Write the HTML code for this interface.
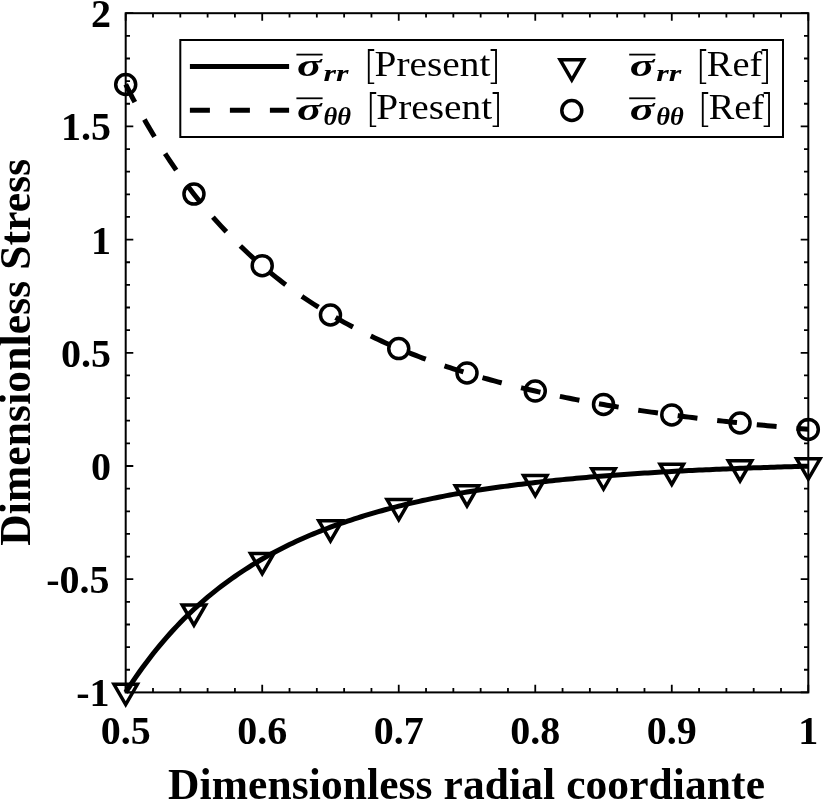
<!DOCTYPE html>
<html><head><meta charset="utf-8"><title>Dimensionless Stress</title>
<style>
html,body{margin:0;padding:0;background:#fff;}
svg{display:block;}
text{font-family:"Liberation Serif",serif;fill:#000;}
.b{font-weight:bold;}
.bi{font-weight:bold;font-style:italic;}
.lt{font-family:"DejaVu Sans Light","DejaVu Sans","Liberation Sans",sans-serif;font-weight:200;}
</style></head><body>
<svg width="823" height="801" viewBox="0 0 823 801">
<rect x="0" y="0" width="823" height="801" fill="#fff"/>
<path d="M125.70,692.4 v-7.6 M125.70,13.2 v7.6 M153.00,692.4 v-4.3 M153.00,13.2 v4.3 M180.31,692.4 v-4.3 M180.31,13.2 v4.3 M207.61,692.4 v-4.3 M207.61,13.2 v4.3 M234.92,692.4 v-4.3 M234.92,13.2 v4.3 M262.22,692.4 v-7.6 M262.22,13.2 v7.6 M289.52,692.4 v-4.3 M289.52,13.2 v4.3 M316.83,692.4 v-4.3 M316.83,13.2 v4.3 M344.13,692.4 v-4.3 M344.13,13.2 v4.3 M371.44,692.4 v-4.3 M371.44,13.2 v4.3 M398.74,692.4 v-7.6 M398.74,13.2 v7.6 M426.04,692.4 v-4.3 M426.04,13.2 v4.3 M453.35,692.4 v-4.3 M453.35,13.2 v4.3 M480.65,692.4 v-4.3 M480.65,13.2 v4.3 M507.96,692.4 v-4.3 M507.96,13.2 v4.3 M535.26,692.4 v-7.6 M535.26,13.2 v7.6 M562.56,692.4 v-4.3 M562.56,13.2 v4.3 M589.87,692.4 v-4.3 M589.87,13.2 v4.3 M617.17,692.4 v-4.3 M617.17,13.2 v4.3 M644.48,692.4 v-4.3 M644.48,13.2 v4.3 M671.78,692.4 v-7.6 M671.78,13.2 v7.6 M699.08,692.4 v-4.3 M699.08,13.2 v4.3 M726.39,692.4 v-4.3 M726.39,13.2 v4.3 M753.69,692.4 v-4.3 M753.69,13.2 v4.3 M781.00,692.4 v-4.3 M781.00,13.2 v4.3 M808.30,692.4 v-7.6 M808.30,13.2 v7.6 M125.7,692.40 h7.6 M808.3,692.40 h-7.6 M125.7,669.76 h4.3 M808.3,669.76 h-4.3 M125.7,647.12 h4.3 M808.3,647.12 h-4.3 M125.7,624.48 h4.3 M808.3,624.48 h-4.3 M125.7,601.84 h4.3 M808.3,601.84 h-4.3 M125.7,579.20 h7.6 M808.3,579.20 h-7.6 M125.7,556.56 h4.3 M808.3,556.56 h-4.3 M125.7,533.92 h4.3 M808.3,533.92 h-4.3 M125.7,511.28 h4.3 M808.3,511.28 h-4.3 M125.7,488.64 h4.3 M808.3,488.64 h-4.3 M125.7,466.00 h7.6 M808.3,466.00 h-7.6 M125.7,443.36 h4.3 M808.3,443.36 h-4.3 M125.7,420.72 h4.3 M808.3,420.72 h-4.3 M125.7,398.08 h4.3 M808.3,398.08 h-4.3 M125.7,375.44 h4.3 M808.3,375.44 h-4.3 M125.7,352.80 h7.6 M808.3,352.80 h-7.6 M125.7,330.16 h4.3 M808.3,330.16 h-4.3 M125.7,307.52 h4.3 M808.3,307.52 h-4.3 M125.7,284.88 h4.3 M808.3,284.88 h-4.3 M125.7,262.24 h4.3 M808.3,262.24 h-4.3 M125.7,239.60 h7.6 M808.3,239.60 h-7.6 M125.7,216.96 h4.3 M808.3,216.96 h-4.3 M125.7,194.32 h4.3 M808.3,194.32 h-4.3 M125.7,171.68 h4.3 M808.3,171.68 h-4.3 M125.7,149.04 h4.3 M808.3,149.04 h-4.3 M125.7,126.40 h7.6 M808.3,126.40 h-7.6 M125.7,103.76 h4.3 M808.3,103.76 h-4.3 M125.7,81.12 h4.3 M808.3,81.12 h-4.3 M125.7,58.48 h4.3 M808.3,58.48 h-4.3 M125.7,35.84 h4.3 M808.3,35.84 h-4.3 M125.7,13.20 h7.6 M808.3,13.20 h-7.6" stroke="#000" stroke-width="1.8" fill="none"/>
<rect x="125.7" y="13.2" width="682.60" height="679.20" fill="none" stroke="#000" stroke-width="2.0"/>
<path d="M125.70,692.42 L129.11,687.12 L132.53,681.96 L135.94,676.94 L139.35,672.05 L142.76,667.30 L146.18,662.67 L149.59,658.16 L153.00,653.77 L156.42,649.50 L159.83,645.35 L163.24,641.30 L166.66,637.35 L170.07,633.51 L173.48,629.77 L176.89,626.12 L180.31,622.57 L183.72,619.11 L187.13,615.74 L190.55,612.45 L193.96,609.24 L197.37,606.12 L200.79,603.07 L204.20,600.10 L207.61,597.20 L211.02,594.37 L214.44,591.61 L217.85,588.91 L221.26,586.28 L224.68,583.71 L228.09,581.20 L231.50,578.74 L234.92,576.34 L238.33,574.00 L241.74,571.71 L245.16,569.47 L248.57,567.29 L251.98,565.15 L255.39,563.06 L258.81,561.02 L262.22,559.02 L265.63,557.07 L269.05,555.16 L272.46,553.29 L275.87,551.47 L279.29,549.68 L282.70,547.94 L286.11,546.23 L289.52,544.57 L292.94,542.94 L296.35,541.34 L299.76,539.78 L303.18,538.26 L306.59,536.77 L310.00,535.31 L313.41,533.88 L316.83,532.48 L320.24,531.12 L323.65,529.78 L327.07,528.47 L330.48,527.19 L333.89,525.93 L337.31,524.70 L340.72,523.49 L344.13,522.31 L347.54,521.15 L350.96,520.02 L354.37,518.90 L357.78,517.81 L361.20,516.74 L364.61,515.69 L368.02,514.66 L371.44,513.65 L374.85,512.65 L378.26,511.68 L381.67,510.72 L385.09,509.78 L388.50,508.86 L391.91,507.95 L395.33,507.07 L398.74,506.20 L402.15,505.34 L405.57,504.50 L408.98,503.68 L412.39,502.88 L415.81,502.09 L419.22,501.32 L422.63,500.56 L426.04,499.82 L429.46,499.09 L432.87,498.38 L436.28,497.68 L439.70,497.00 L443.11,496.33 L446.52,495.67 L449.94,495.03 L453.35,494.40 L456.76,493.79 L460.17,493.19 L463.59,492.60 L467.00,492.02 L470.41,491.45 L473.83,490.90 L477.24,490.35 L480.65,489.82 L484.06,489.29 L487.48,488.78 L490.89,488.28 L494.30,487.78 L497.72,487.30 L501.13,486.82 L504.54,486.36 L507.96,485.90 L511.37,485.45 L514.78,485.01 L518.20,484.58 L521.61,484.15 L525.02,483.73 L528.43,483.32 L531.85,482.92 L535.26,482.53 L538.67,482.14 L542.09,481.76 L545.50,481.39 L548.91,481.02 L552.32,480.66 L555.74,480.31 L559.15,479.96 L562.56,479.62 L565.98,479.29 L569.39,478.96 L572.80,478.64 L576.22,478.32 L579.63,478.01 L583.04,477.71 L586.46,477.41 L589.87,477.11 L593.28,476.83 L596.69,476.54 L600.11,476.26 L603.52,475.99 L606.93,475.72 L610.35,475.46 L613.76,475.20 L617.17,474.95 L620.59,474.70 L624.00,474.46 L627.41,474.22 L630.82,473.98 L634.24,473.75 L637.65,473.53 L641.06,473.31 L644.48,473.09 L647.89,472.88 L651.30,472.67 L654.71,472.46 L658.13,472.26 L661.54,472.06 L664.95,471.87 L668.37,471.67 L671.78,471.49 L675.19,471.30 L678.61,471.12 L682.02,470.94 L685.43,470.77 L688.85,470.60 L692.26,470.43 L695.67,470.27 L699.08,470.11 L702.50,469.95 L705.91,469.79 L709.32,469.64 L712.74,469.49 L716.15,469.34 L719.56,469.19 L722.97,469.05 L726.39,468.91 L729.80,468.77 L733.21,468.64 L736.63,468.50 L740.04,468.37 L743.45,468.24 L746.87,468.12 L750.28,467.99 L753.69,467.87 L757.11,467.75 L760.52,467.63 L763.93,467.52 L767.34,467.40 L770.76,467.29 L774.17,467.18 L777.58,467.07 L781.00,466.96 L784.41,466.86 L787.82,466.75 L791.24,466.65 L794.65,466.55 L798.06,466.45 L801.47,466.35 L804.89,466.25 L808.30,466.16" fill="none" stroke="#000" stroke-width="5" stroke-linejoin="round"/>
<path d="M125.70,84.47 L129.11,91.21 L132.53,97.79 L135.94,104.22 L139.35,110.51 L142.76,116.66 L146.18,122.66 L149.59,128.54 L153.00,134.28 L156.42,139.89 L159.83,145.38 L163.24,150.75 L166.66,156.01 L170.07,161.15 L173.48,166.17 L176.89,171.09 L180.31,175.91 L183.72,180.62 L187.13,185.23 L190.55,189.75 L193.96,194.17 L197.37,198.49 L200.79,202.73 L204.20,206.88 L207.61,210.94 L211.02,214.92 L214.44,218.82 L217.85,222.64 L221.26,226.38 L224.68,230.05 L228.09,233.64 L231.50,237.16 L234.92,240.61 L238.33,243.99 L241.74,247.31 L245.16,250.56 L248.57,253.75 L251.98,256.87 L255.39,259.94 L258.81,262.94 L262.22,265.89 L265.63,268.78 L269.05,271.62 L272.46,274.40 L275.87,277.13 L279.29,279.80 L282.70,282.43 L286.11,285.01 L289.52,287.54 L292.94,290.03 L296.35,292.46 L299.76,294.86 L303.18,297.21 L306.59,299.51 L310.00,301.78 L313.41,304.00 L316.83,306.19 L320.24,308.33 L323.65,310.44 L327.07,312.51 L330.48,314.54 L333.89,316.54 L337.31,318.50 L340.72,320.42 L344.13,322.32 L347.54,324.18 L350.96,326.01 L354.37,327.81 L357.78,329.57 L361.20,331.31 L364.61,333.01 L368.02,334.69 L371.44,336.34 L374.85,337.96 L378.26,339.56 L381.67,341.13 L385.09,342.67 L388.50,344.18 L391.91,345.68 L395.33,347.14 L398.74,348.58 L402.15,350.00 L405.57,351.40 L408.98,352.77 L412.39,354.12 L415.81,355.45 L419.22,356.76 L422.63,358.05 L426.04,359.32 L429.46,360.56 L432.87,361.79 L436.28,363.00 L439.70,364.19 L443.11,365.36 L446.52,366.51 L449.94,367.64 L453.35,368.76 L456.76,369.86 L460.17,370.94 L463.59,372.01 L467.00,373.06 L470.41,374.09 L473.83,375.11 L477.24,376.11 L480.65,377.10 L484.06,378.07 L487.48,379.03 L490.89,379.97 L494.30,380.90 L497.72,381.82 L501.13,382.72 L504.54,383.61 L507.96,384.49 L511.37,385.35 L514.78,386.20 L518.20,387.04 L521.61,387.87 L525.02,388.69 L528.43,389.49 L531.85,390.28 L535.26,391.06 L538.67,391.83 L542.09,392.59 L545.50,393.34 L548.91,394.08 L552.32,394.80 L555.74,395.52 L559.15,396.23 L562.56,396.92 L565.98,397.61 L569.39,398.29 L572.80,398.96 L576.22,399.62 L579.63,400.27 L583.04,400.91 L586.46,401.54 L589.87,402.17 L593.28,402.78 L596.69,403.39 L600.11,403.99 L603.52,404.58 L606.93,405.17 L610.35,405.74 L613.76,406.31 L617.17,406.87 L620.59,407.43 L624.00,407.97 L627.41,408.51 L630.82,409.04 L634.24,409.57 L637.65,410.09 L641.06,410.60 L644.48,411.11 L647.89,411.60 L651.30,412.10 L654.71,412.58 L658.13,413.06 L661.54,413.54 L664.95,414.01 L668.37,414.47 L671.78,414.92 L675.19,415.37 L678.61,415.82 L682.02,416.26 L685.43,416.69 L688.85,417.12 L692.26,417.54 L695.67,417.96 L699.08,418.38 L702.50,418.78 L705.91,419.19 L709.32,419.59 L712.74,419.98 L716.15,420.37 L719.56,420.75 L722.97,421.13 L726.39,421.51 L729.80,421.88 L733.21,422.24 L736.63,422.60 L740.04,422.96 L743.45,423.31 L746.87,423.66 L750.28,424.01 L753.69,424.35 L757.11,424.69 L760.52,425.02 L763.93,425.35 L767.34,425.67 L770.76,425.99 L774.17,426.31 L777.58,426.63 L781.00,426.94 L784.41,427.24 L787.82,427.55 L791.24,427.85 L794.65,428.15 L798.06,428.44 L801.47,428.73 L804.89,429.02 L808.30,429.30" fill="none" stroke="#000" stroke-width="5" stroke-dasharray="19.9 19.9" stroke-linejoin="round"/>
<g fill="none" stroke="#000" stroke-width="3.5" stroke-linejoin="miter">
<path d="M113.97,684.36 L137.43,684.36 L125.70,704.61 Z"/>
<path d="M182.23,604.94 L205.69,604.94 L193.96,625.19 Z"/>
<path d="M250.49,553.43 L273.95,553.43 L262.22,573.68 Z"/>
<path d="M318.75,520.74 L342.21,520.74 L330.48,540.99 Z"/>
<path d="M387.01,499.46 L410.47,499.46 L398.74,519.71 Z"/>
<path d="M455.27,485.65 L478.73,485.65 L467.00,505.90 Z"/>
<path d="M523.53,475.55 L546.99,475.55 L535.26,495.80 Z"/>
<path d="M591.79,468.85 L615.25,468.85 L603.52,489.10 Z"/>
<path d="M660.05,464.14 L683.51,464.14 L671.78,484.39 Z"/>
<path d="M728.31,460.65 L751.77,460.65 L740.04,480.90 Z"/>
<path d="M796.57,458.80 L820.03,458.80 L808.30,479.05 Z"/>
<circle cx="125.70" cy="84.52" r="10.0"/>
<circle cx="193.96" cy="194.09" r="10.0"/>
<circle cx="262.22" cy="265.64" r="10.0"/>
<circle cx="330.48" cy="314.99" r="10.0"/>
<circle cx="398.74" cy="348.59" r="10.0"/>
<circle cx="467.00" cy="372.95" r="10.0"/>
<circle cx="535.26" cy="391.06" r="10.0"/>
<circle cx="603.52" cy="404.42" r="10.0"/>
<circle cx="671.78" cy="414.90" r="10.0"/>
<circle cx="740.04" cy="422.98" r="10.0"/>
<circle cx="808.30" cy="429.39" r="10.0"/>
</g>
<g class="b" font-size="40" text-anchor="middle">
<text x="125.7" y="744.3">0.5</text>
<text x="262.2" y="744.3">0.6</text>
<text x="398.7" y="744.3">0.7</text>
<text x="535.3" y="744.3">0.8</text>
<text x="671.8" y="744.3">0.9</text>
<text x="808.3" y="744.3">1</text>
</g>
<g class="b" font-size="40" text-anchor="end">
<text x="111.1" y="27.2">2</text>
<text x="111.1" y="140.4">1.5</text>
<text x="111.1" y="253.6">1</text>
<text x="111.1" y="366.8">0.5</text>
<text x="111.1" y="480.0">0</text>
<text x="109.6" y="593.2">-0.5</text>
<text x="109.6" y="706.4">-1</text>
</g>
<text class="b" font-size="43.5" text-anchor="middle" letter-spacing="0.08" x="466.6" y="798.7">Dimensionless radial coordiante</text>
<text class="b" font-size="43.5" text-anchor="middle" letter-spacing="0.12" transform="translate(30.2,352.2) rotate(-90)">Dimensionless Stress</text>
<rect x="180.3" y="40.0" width="602.7" height="97.0" fill="#fff" stroke="#000" stroke-width="2.0"/>
<path d="M189.9,66.5 H289.1" stroke="#000" stroke-width="5" fill="none"/>
<path d="M189.9,110.2 H289.1" stroke="#000" stroke-width="5" stroke-dasharray="20 20" fill="none"/>
<g fill="none" stroke="#000" stroke-width="3.5"><path d="M560.07,59.75 L583.53,59.75 L571.80,80.00 Z"/><circle cx="571.80" cy="110.50" r="10.0"/></g>
<path d="M296.4,54.6 h26.2" stroke="#000" stroke-width="1.8" fill="none"/>
<text class="bi" font-size="31" x="297.0" y="75.9" textLength="24.6" lengthAdjust="spacingAndGlyphs">σ</text>
<text class="bi" font-size="22.5" x="323.4" y="80.7" textLength="25" lengthAdjust="spacingAndGlyphs">rr</text>
<text class="lt" font-size="38.3" x="363.6" y="78.7">[</text>
<text font-size="35" x="374.6" y="75.5" textLength="115.8" lengthAdjust="spacingAndGlyphs">Present</text>
<text class="lt" font-size="38.3" x="486.2" y="78.7">]</text>
<path d="M296.4,98.3 h26.2" stroke="#000" stroke-width="1.8" fill="none"/>
<text class="bi" font-size="31" x="297.0" y="119.6" textLength="24.6" lengthAdjust="spacingAndGlyphs">σ</text>
<text class="bi" font-size="25" x="323.4" y="124.8" textLength="27.5" lengthAdjust="spacingAndGlyphs">θθ</text>
<text class="lt" font-size="38.3" x="365.6" y="122.4">[</text>
<text font-size="35" x="376.3" y="119.2" textLength="115.8" lengthAdjust="spacingAndGlyphs">Present</text>
<text class="lt" font-size="38.3" x="488.2" y="122.4">]</text>
<path d="M629.2,54.6 h26.2" stroke="#000" stroke-width="1.8" fill="none"/>
<text class="bi" font-size="31" x="629.8000000000001" y="75.9" textLength="24.6" lengthAdjust="spacingAndGlyphs">σ</text>
<text class="bi" font-size="22.5" x="656.2" y="80.7" textLength="25" lengthAdjust="spacingAndGlyphs">rr</text>
<text class="lt" font-size="38.3" x="695.5" y="78.7">[</text>
<text font-size="35" x="706.8" y="75.5" textLength="55.5" lengthAdjust="spacingAndGlyphs">Ref</text>
<text class="lt" font-size="38.3" x="757.2" y="78.7">]</text>
<path d="M629.2,98.3 h26.2" stroke="#000" stroke-width="1.8" fill="none"/>
<text class="bi" font-size="31" x="629.8000000000001" y="119.6" textLength="24.6" lengthAdjust="spacingAndGlyphs">σ</text>
<text class="bi" font-size="25" x="656.2" y="124.8" textLength="27.5" lengthAdjust="spacingAndGlyphs">θθ</text>
<text class="lt" font-size="38.3" x="697.4" y="122.4">[</text>
<text font-size="35" x="708.8" y="119.2" textLength="55.3" lengthAdjust="spacingAndGlyphs">Ref</text>
<text class="lt" font-size="38.3" x="759.2" y="122.4">]</text>
</svg>
</body></html>
